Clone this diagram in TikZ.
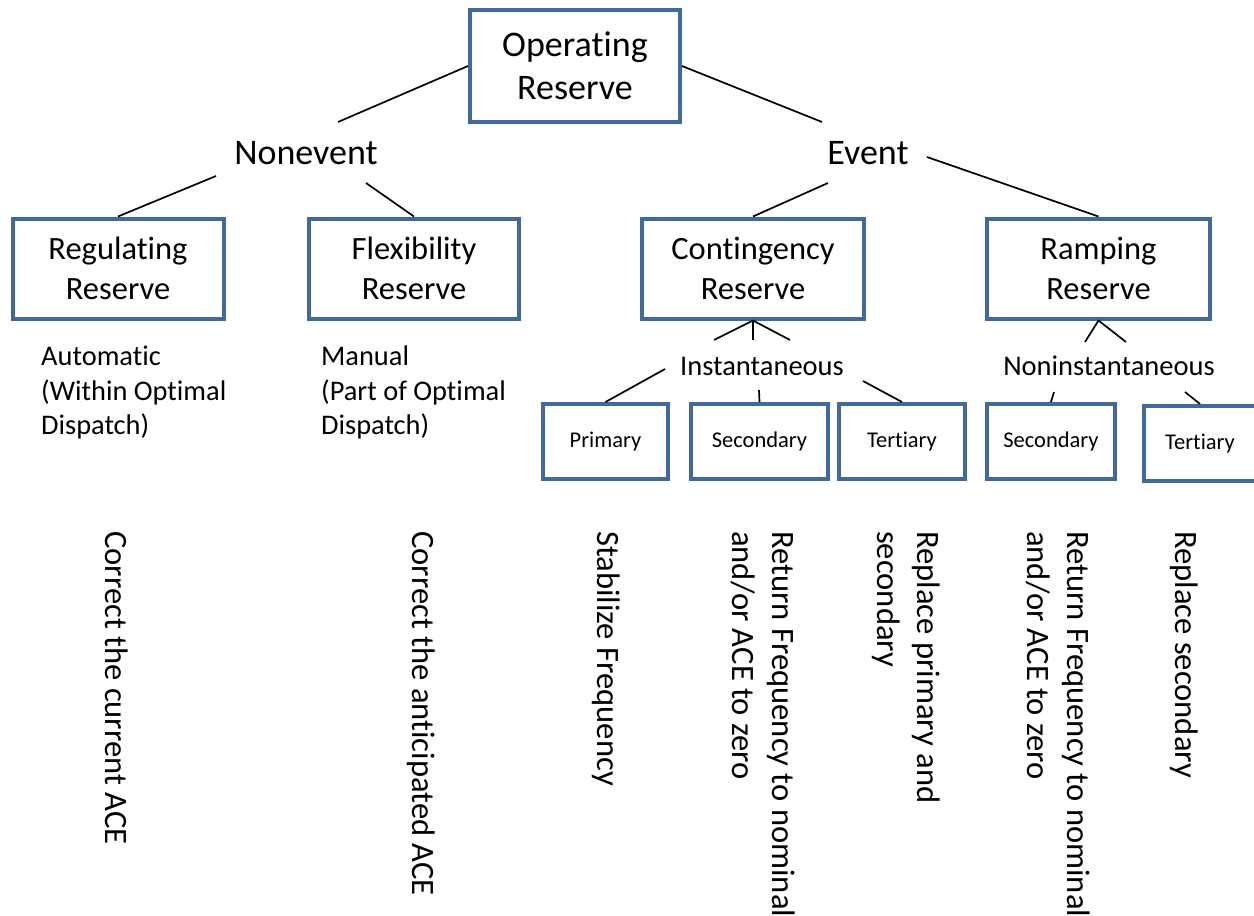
\documentclass[tikz,border=0pt]{standalone}
\usepackage{fontspec}
\setmainfont{Carlito}[Ligatures={NoCommon,NoRequired,NoContextual},Contextuals={NoAlternate}]
\usetikzlibrary{calc}
\definecolor{boxblue}{HTML}{41699B}
\tikzset{
  box/.style={draw=boxblue, line width=4pt, align=center, inner sep=0pt, fill=white},
  bigbox/.style={box, font=\fontsize{36}{43}\selectfont},
  midbox/.style={box, font=\fontsize{32.5}{40}\selectfont, minimum height=100pt},
  smallbox/.style={box, font=\fontsize{22.5}{27}\selectfont, minimum height=75pt},
  lab/.style={inner sep=0pt, font=\fontsize{36}{43}\selectfont},
  sublab/.style={inner sep=0pt, font=\fontsize{28.5}{34.5}\selectfont},
  note/.style={inner sep=0pt, align=left, anchor=north west, font=\fontsize{28.4}{34.5}\selectfont},
  vnote/.style={inner sep=0pt, align=left, anchor=north west, rotate=-90, font=\fontsize{32.6}{40}\selectfont},
  conn/.style={line width=1.7pt, black}
}
\begin{document}
\begin{tikzpicture}[x=1pt,y=-1pt]
\useasboundingbox (0,0) rectangle (1254,916);
% top
\node[bigbox, minimum width=210pt, minimum height=112pt] (op) at (575,66) {Operating\\Reserve};
\node[lab] (ne) at (306,153) {Nonevent};
\node[lab] (ev) at (868,153) {Event};
% row 2
\node[midbox, minimum width=211pt] (reg) at (118,268.5) {Regulating\\Reserve};
\node[midbox, minimum width=210pt] (flex) at (414,268.5) {Flexibility\\Reserve};
\node[midbox, minimum width=222pt] (cont) at (753,268.5) {Contingency\\Reserve};
\node[midbox, minimum width=223pt] (ramp) at (1098.5,268.5) {Ramping\\Reserve};
% sub labels
\node[sublab] (inst) at (762,366) {Instantaneous};
\node[sublab] (ninst) at (1109,366) {Noninstantaneous};
% row 3
\node[smallbox, minimum width=125pt] (prim) at (605.5,441.5) {Primary};
\node[smallbox, minimum width=137pt] (sec) at (759.5,441.5) {Secondary};
\node[smallbox, minimum width=126pt] (ter) at (902,441.5) {Tertiary};
\node[smallbox, minimum width=128pt] (secb) at (1051,441.5) {Secondary};
\node[smallbox, minimum width=112pt] (terb) at (1200,443.5) {Tertiary};
% notes
\node[note] (auto) at (41,346) {Automatic\\(Within Optimal\\Dispatch)};
\node[note] (man) at (321,346) {Manual\\(Part of Optimal\\Dispatch)};
% rotated notes
\node[vnote] (v1) at (128,531) {Correct the current ACE};
\node[vnote] (v2) at (435,531) {Correct the anticipated ACE};
\node[vnote] (v3) at (620,531) {Stabilize Frequency};
\node[vnote] (v4) at (795,531) {Return Frequency to nominal\\and/or ACE to zero};
\node[vnote] (v5) at (940,531) {Replace primary and\\secondary};
\node[vnote] (v6) at (1090,531) {Return Frequency to nominal\\and/or ACE to zero};
\node[vnote] (v7) at (1198,531) {Replace secondary};
% connectors
\draw[conn] (op.west) -- ($(ne)+(32,-31)$);
\draw[conn] (op.east) -- ($(ev)+(-46,-31)$);
\draw[conn] ($(ne)+(-90,23)$) -- (reg.north);
\draw[conn] ($(ne)+(60,30)$) -- (flex.north);
\draw[conn] ($(ev)+(-40,30)$) -- (cont.north);
\draw[conn] ($(ev)+(59,4)$) -- (ramp.north);
\draw[conn] (cont.south) -- ($(inst)+(-48,-26)$);
\draw[conn] (cont.south) -- ($(inst)+(-9,-26)$);
\draw[conn] (cont.south) -- ($(inst)+(28,-26)$);
\draw[conn] (ramp.south) -- ($(ninst)+(-24,-24)$);
\draw[conn] (ramp.south) -- ($(ninst)+(17,-24)$);
\draw[conn] ($(inst)+(-97,3)$) -- (prim.north);
\draw[conn] ($(inst)+(-3,24)$) -- (sec.north);
\draw[conn] ($(inst)+(101,15)$) -- (ter.north);
\draw[conn] ($(ninst)+(-55,26)$) -- (secb.north);
\draw[conn] ($(ninst)+(76,26)$) -- (terb.north);
\end{tikzpicture}
\end{document}
